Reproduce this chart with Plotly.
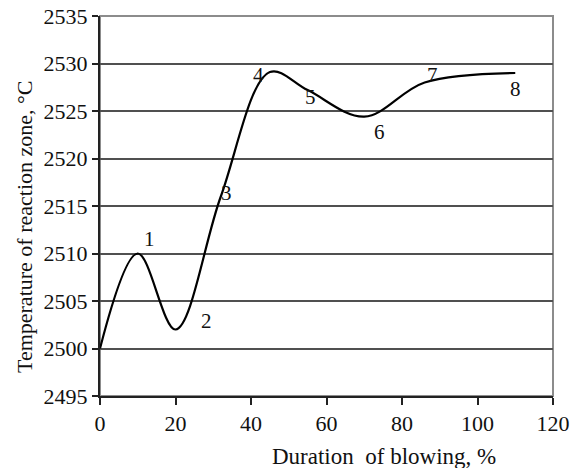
import plotly.graph_objects as go

# Data
duration = [0, 10, 20, 32, 45, 55, 70, 86, 110]
temperature = [2500, 2510, 2502, 2516, 2529.1, 2527.2, 2524.4, 2528, 2529]
point_labels = ["", "1", "2", "3", "4", "5", "6", "7", "8"]
x_ticks = [0, 20, 40, 60, 80, 100, 120]
y_ticks = [2495, 2500, 2505, 2510, 2515, 2520, 2525, 2530, 2535]

# label offsets in pixels (style)
label_shift = [(0, 0), (12, 15), (31, 9), (6, 4), (-11, -3), (3, -7), (15, -15), (8, 8), (0, -16)]

FONT = "Liberation Serif, Times New Roman, serif"
PW, PH = 453, 380  # plot area size in px

fig = go.Figure()
fig.add_trace(go.Scatter(
    x=duration, y=temperature, mode="lines",
    line=dict(color="black", width=2.2, shape="spline", smoothing=1.0),
    showlegend=False, hoverinfo="skip",
))

for xv, yv, lab, (dx, dy) in zip(duration, temperature, point_labels, label_shift):
    if lab:
        fig.add_annotation(x=xv, y=yv, text=lab, showarrow=False,
                           xshift=dx, yshift=dy, xanchor="center", yanchor="middle",
                           font=dict(family=FONT, size=21, color="#111"))

# plot box (top/right gray)
fig.add_shape(type="rect", xref="paper", yref="paper", x0=0, y0=0, x1=1, y1=1,
              line=dict(color="#8c8c8c", width=2), layer="below")

fig.add_annotation(xref="paper", yref="paper", x=(384 - 100) / PW, y=(396 - 456) / PH,
                   xanchor="center", yanchor="middle",
                   text="Duration  of blowing, %", showarrow=False,
                   font=dict(family=FONT, size=23, color="#111"))
fig.add_annotation(xref="paper", yref="paper", x=(24 - 100) / PW, y=(396 - 227) / PH,
                   xanchor="center", yanchor="middle",
                   text="Temperature of reaction zone, °C", showarrow=False, textangle=-90,
                   font=dict(family=FONT, size=22, color="#111"))

fig.update_layout(
    width=581, height=468,
    margin=dict(l=100, r=28, t=16, b=72, autoexpand=False),
    paper_bgcolor="white", plot_bgcolor="white",
    font=dict(family=FONT, size=22, color="#111"),
    xaxis=dict(range=[0, 120], tickvals=x_ticks, showgrid=False, zeroline=False,
               showline=True, linecolor="#222", linewidth=2, automargin=False,
               ticks="outside", ticklen=7, tickwidth=2, tickcolor="#222",
               ticklabeloverflow="allow",
               tickfont=dict(family=FONT, size=22, color="#111")),
    yaxis=dict(range=[2495, 2535], tickvals=y_ticks, showgrid=True,
               gridcolor="#505050", gridwidth=1.6, zeroline=False,
               showline=True, linecolor="#222", linewidth=2, automargin=False,
               ticks="outside", ticklen=6, tickwidth=2, tickcolor="#222",
               ticklabeloverflow="allow",
               tickfont=dict(family=FONT, size=22, color="#111")),
)

fig.write_html("out.html", config={"displayModeBar": False},
               post_script="document.body.style.margin='0';document.body.style.overflow='hidden';")
